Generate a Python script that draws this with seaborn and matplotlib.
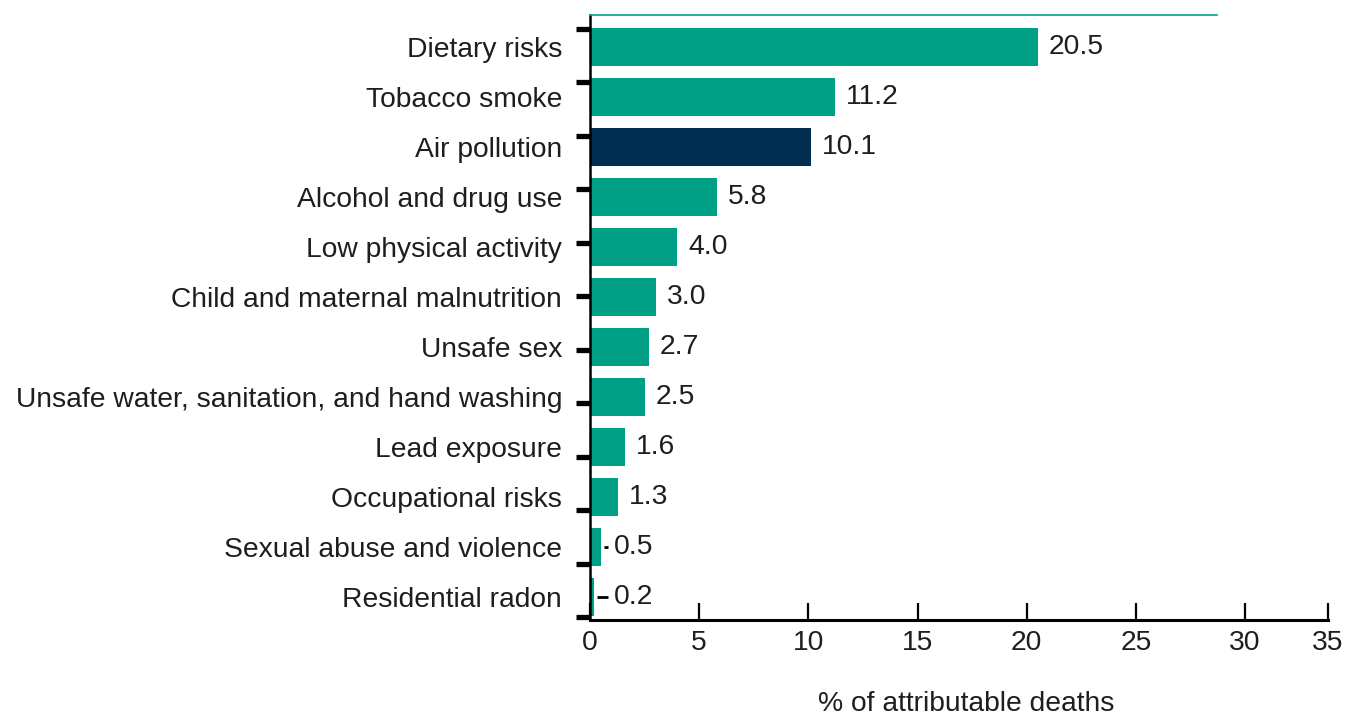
import numpy as np
import pandas as pd
import matplotlib
matplotlib.use("Agg")
import matplotlib.pyplot as plt
import seaborn as sns

categories = ["Dietary risks", "Tobacco smoke", "Air pollution", "Alcohol and drug use",
              "Low physical activity", "Child and maternal malnutrition", "Unsafe sex",
              "Unsafe water, sanitation, and hand washing", "Lead exposure",
              "Occupational risks", "Sexual abuse and violence", "Residential radon"]
values = [20.5, 11.2, 10.1, 5.8, 4.0, 3.0, 2.7, 2.5, 1.6, 1.3, 0.5, 0.2]
highlight = "Air pollution"
xtick_values = [0, 5, 10, 15, 20, 25, 30]
xtick_labels = ["0", "5", "10", "15", "20", "25", "30", "35"]

TEAL = "#00A087"
NAVY = "#002D50"
TEXT = "#1e1e1e"

sns.set_theme(style="white")
plt.rcParams["font.family"] = ["Liberation Sans", "DejaVu Sans"]

df = pd.DataFrame({"cat": categories, "val": values})
palette = {c: (NAVY if c == highlight else TEAL) for c in categories}

fig = plt.figure(figsize=(13.53, 7.21), dpi=100)
ax = fig.add_axes([590 / 1353, 1 - 620 / 721, (1328 - 590) / 1353, (620 - 15) / 721])

sns.barplot(data=df, x="val", y="cat", hue="cat", palette=palette, legend=False,
            width=0.76, ax=ax, saturation=1, edgecolor="none")

xmax = 33.8
ax.set_xlim(0, xmax)
ax.set_ylim(11.46, -0.64)

# value labels
fs = 20.3
for i, v in enumerate(values):
    if v >= 1:
        ax.text(v + 0.5, i, f"{v:.1f}", va="center", ha="left", fontsize=fs, color=TEXT)
    else:
        ax.plot([v + 0.12, 0.82], [i, i], color="black", lw=2, solid_capstyle="butt")
        ax.text(1.08, i, f"{v:.1f}", va="center", ha="left", fontsize=fs, color=TEXT)

# spines
ax.spines["right"].set_visible(False)
ax.spines["left"].set_color("black")
ax.spines["left"].set_linewidth(1.8)
ax.spines["bottom"].set_color("black")
ax.spines["bottom"].set_linewidth(2.2)
ax.spines["top"].set_color(TEAL)
ax.spines["top"].set_linewidth(1.2)
ax.spines["top"].set_bounds(0, 28.7)

# x ticks
ax.set_xticks(xtick_values + [xmax])
ax.set_xticklabels(xtick_labels, fontsize=fs, color=TEXT)
ax.tick_params(axis="x", direction="in", length=12, width=1.6, color="black", pad=7, bottom=True)

# y ticks: labels at categories, marks at boundaries
ax.set_yticks(range(len(categories)))
ax.set_yticklabels(categories, fontsize=fs, color=TEXT)
ax.tick_params(axis="y", which="major", length=0, pad=20, left=True)
ax.set_yticks(np.linspace(-0.36, 11.4, 12), minor=True)
ax.tick_params(axis="y", which="minor", direction="out", length=10, width=3.8, color="black", left=True)

ax.set_ylabel("")
ax.set_xlabel("% of attributable deaths", fontsize=fs, color=TEXT)
ax.xaxis.set_label_coords(0.51, -0.117)

fig.savefig("out.png", dpi=100)
